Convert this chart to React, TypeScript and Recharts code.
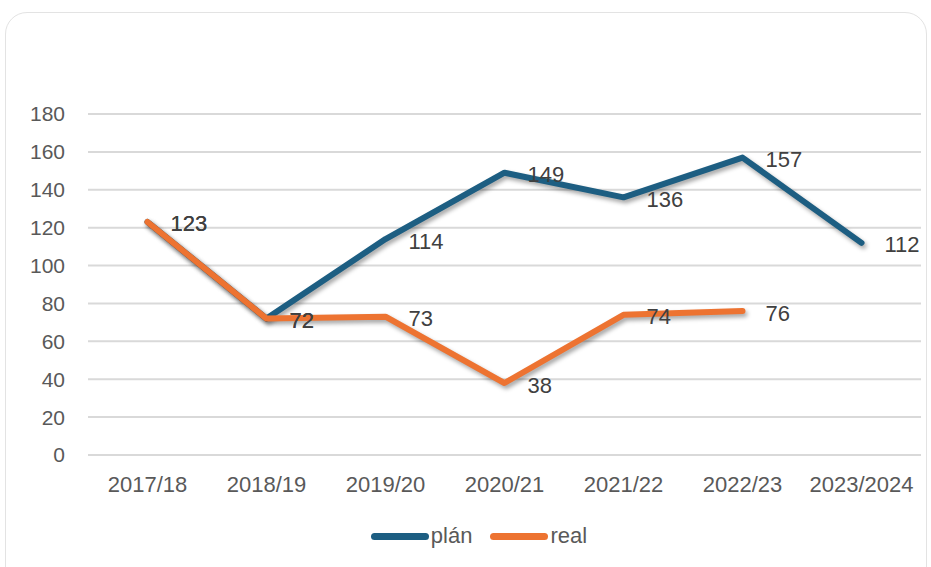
import { LineChart, Line, XAxis, YAxis, CartesianGrid, Legend, LabelList } from "recharts";

// school years
const years = ["2017/18", "2018/19", "2019/20", "2020/21", "2021/22", "2022/23", "2023/2024"];
const plan = [123, 72, 114, 149, 136, 157, 112];
const real: (number | null)[] = [123, 72, 73, 38, 74, 76, null];
const yTicks = [0, 20, 40, 60, 80, 100, 120, 140, 160, 180];

const data = years.map((year, i) => ({ year, plan: plan[i], real: real[i] }));

const PLAN_COLOR = "#1d5e82";
const REAL_COLOR = "#ed7331";
const FONT = "'Liberation Sans', Arial, sans-serif";

const renderLabel = (props: any) => {
  const { x, y, value } = props;
  if (value == null) return null;
  return (
    <text x={x + 23} y={y + 2} fill="#404040" fontSize={22} fontFamily={FONT} dominantBaseline="central">
      {value}
    </text>
  );
};

const renderLegend = (props: any) => {
  const { payload } = props;
  return (
    <div style={{ display: "flex", justifyContent: "center", alignItems: "center", height: 62, paddingLeft: 37, boxSizing: "border-box" }}>
      {payload.map((entry: any) => (
        <div key={entry.value} style={{ display: "flex", alignItems: "center", margin: "0 9px" }}>
          <div style={{ width: 58, height: 7, borderRadius: 4, background: entry.color, marginRight: 2 }} />
          <span style={{ color: "#595959", fontSize: 22, fontFamily: FONT, lineHeight: "24px" }}>{entry.value}</span>
        </div>
      ))}
    </div>
  );
};

export default function App() {
  return (
    <div style={{ position: "absolute", left: 0, top: 0, width: 931, height: 567, overflow: "hidden", background: "#fff" }}>
      <style>{`.recharts-line-curve { filter: drop-shadow(2px 3px 2px rgba(0,0,0,0.35)); }`}</style>
      <div
        style={{
          position: "absolute",
          left: 5,
          top: 12,
          width: 922,
          height: 600,
          border: "1.5px solid #e3e3e3",
          borderRadius: 22,
          boxSizing: "border-box",
        }}
      />
      <div style={{ position: "absolute", left: 0, top: 0 }}>
        <LineChart width={931} height={567} data={data} margin={{ top: 114, right: 10, left: 0, bottom: 0 }}>
          <CartesianGrid vertical={false} stroke="#d9d9d9" strokeWidth={2} />
          <XAxis
            dataKey="year"
            scale="band"
            axisLine={false}
            tickLine={false}
            tickSize={0}
            tickMargin={21}
            height={50}
            interval={0}
            tick={{ fill: "#595959", fontSize: 22, fontFamily: FONT }}
          />
          <YAxis
            domain={[0, 180]}
            ticks={yTicks}
            axisLine={false}
            tickLine={false}
            tickSize={0}
            tickMargin={23}
            width={88}
            tick={{ fill: "#595959", fontSize: 21, fontFamily: FONT }}
          />
          <Legend verticalAlign="bottom" height={62} content={renderLegend} />
          <Line
            dataKey="plan"
            name="plán"
            stroke={PLAN_COLOR}
            strokeWidth={6}
            strokeLinecap="round"
            strokeLinejoin="round"
            dot={false}
            isAnimationActive={false}
          >
            <LabelList dataKey="plan" content={renderLabel} />
          </Line>
          <Line
            dataKey="real"
            name="real"
            stroke={REAL_COLOR}
            strokeWidth={6}
            strokeLinecap="round"
            strokeLinejoin="round"
            dot={false}
            isAnimationActive={false}
          >
            <LabelList dataKey="real" content={renderLabel} />
          </Line>
        </LineChart>
      </div>
    </div>
  );
}
